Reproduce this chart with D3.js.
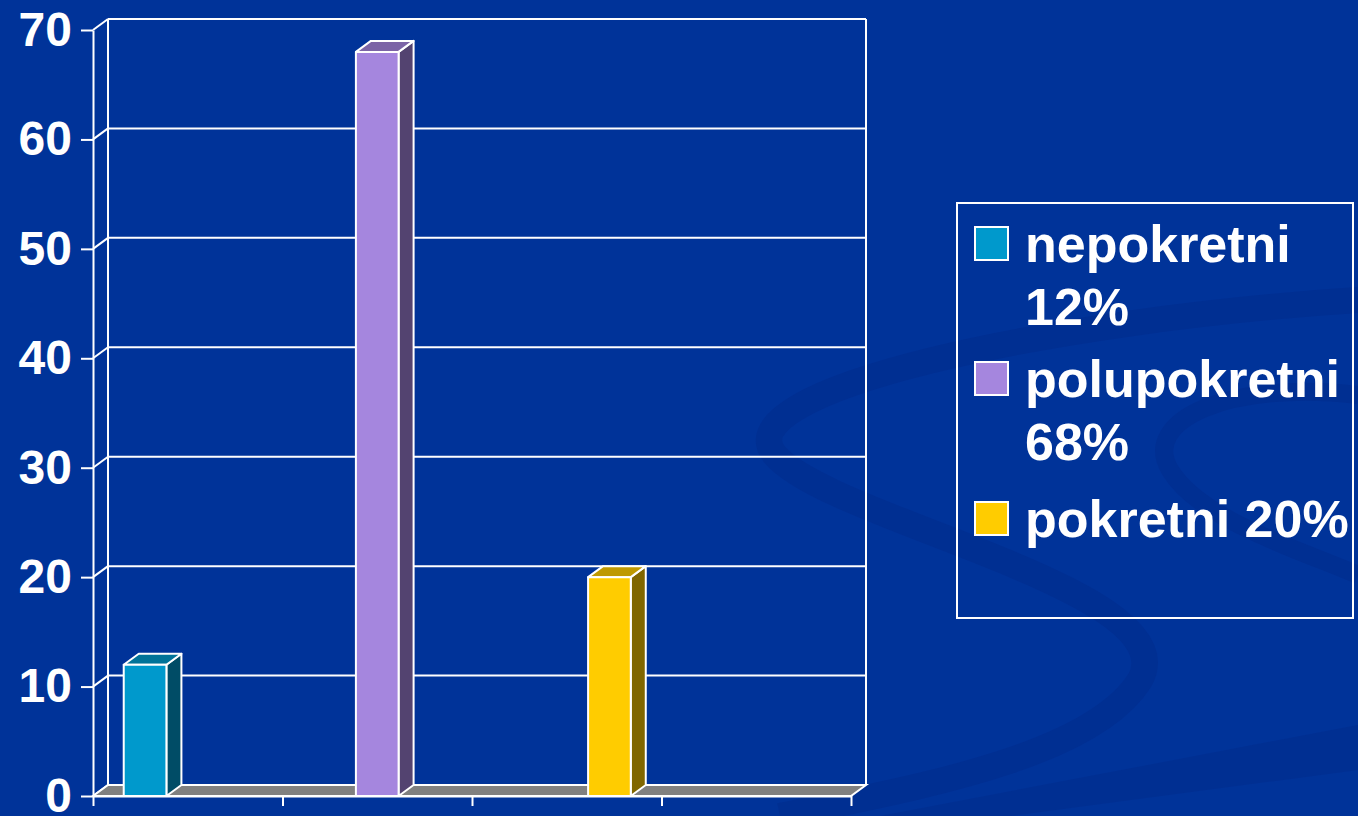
<!DOCTYPE html>
<html lang="hr">
<head>
  <meta charset="utf-8">
  <title>Pokretnost</title>
  <script src="https://cdn.jsdelivr.net/npm/d3@7"></script>
  <style>
    html, body { margin: 0; padding: 0; background: #003399; overflow: hidden; }
    svg { display: block; font-family: "Liberation Sans", Arial, sans-serif; font-weight: bold; }
  </style>
</head>
<body>
<script>
  // Data
  const slots = ["1", "2", "3", "4"];           // category slots along the x axis (no labels shown)
  const seriesNames = ["nepokretni 12%", "polupokretni 68%", "pokretni 20%"];
  const seriesValues = [12, 68, 20];
  const seriesSlot = ["1", "2", "3"];            // slot each series bar sits in
  const yTicks = [0, 10, 20, 30, 40, 50, 60, 70];

  // Colours: front, top, side
  const frontCol = ["#0099cc", "#a586de", "#ffcc00"];
  const topCol = ["#007399", "#7c64a6", "#bf9900"];
  const sideCol = ["#004c66", "#534370", "#806600"];

  const W = 1358, H = 816;
  const dx = 15, dy = 11; // 3d depth offset

  const svg = d3.select("body").append("svg")
    .attr("width", W)
    .attr("height", H);

  // background + swoosh decoration
  svg.append("rect").attr("width", W).attr("height", H).attr("fill", "#003399");
  const deco = svg.append("g").attr("fill", "none").attr("stroke", "#002b8c").attr("stroke-opacity", 0.55);
  deco.append("path")
    .attr("stroke-width", 26)
    .attr("d", "M1358,300 C1050,320 720,390 775,455 C830,520 1190,590 1140,680 C1090,760 900,790 780,816");
  deco.append("path")
    .attr("stroke-width", 18)
    .attr("d", "M1358,395 C1230,380 1140,420 1170,470 C1200,520 1300,550 1358,575");
  svg.append("path")
    .attr("fill", "#002b8c").attr("fill-opacity", 0.5)
    .attr("d", "M880,816 L1358,725 L1358,770 L1010,816 Z");

  // Scales
  const x = d3.scaleBand().domain(slots).range([93, 851]).paddingInner(0).paddingOuter(0);
  const xInner = d3.scaleBand().domain(seriesNames).range([0, x.bandwidth()]).paddingInner(0).paddingOuter(0.72);
  const xEdge = d3.scaleLinear().domain([0, slots.length]).range([93, 851]);
  const y = d3.scaleLinear().domain([0, 70]).range([796, 30]);

  const line = "#ffffff";

  // back wall gridlines
  const grid = svg.append("g").attr("stroke", line).attr("stroke-width", 2);
  grid.selectAll("line.h")
    .data(yTicks.slice(1))
    .join("line")
    .attr("class", "h")
    .attr("x1", 93 + dx).attr("x2", 851 + dx)
    .attr("y1", d => y(d) - dy).attr("y2", d => y(d) - dy);
  // left wall diagonals
  grid.selectAll("line.d")
    .data(yTicks)
    .join("line")
    .attr("class", "d")
    .attr("x1", 93).attr("x2", 93 + dx)
    .attr("y1", d => y(d)).attr("y2", d => y(d) - dy);
  // wall edges
  grid.append("line").attr("x1", 93 + dx).attr("x2", 93 + dx).attr("y1", y(70) - dy).attr("y2", y(0) - dy);
  grid.append("line").attr("x1", 851 + dx).attr("x2", 851 + dx).attr("y1", y(70) - dy).attr("y2", y(0) - dy);

  // floor
  svg.append("path")
    .attr("fill", "#808080")
    .attr("stroke", line).attr("stroke-width", 2)
    .attr("d", `M93,${y(0)} L851,${y(0)} L${851 + dx},${y(0) - dy} L${93 + dx},${y(0) - dy} Z`);

  // bars
  const bars = svg.append("g").attr("stroke", line).attr("stroke-width", 2).attr("stroke-linejoin", "round");
  seriesNames.forEach((name, i) => {
    const x0 = x(seriesSlot[i]) + xInner(name);
    const w = xInner.bandwidth();
    const yt = y(seriesValues[i]);
    const yb = y(0);
    const g = bars.append("g");
    g.append("path").attr("fill", sideCol[i])
      .attr("d", `M${x0 + w},${yt} L${x0 + w + dx},${yt - dy} L${x0 + w + dx},${yb - dy} L${x0 + w},${yb} Z`);
    g.append("path").attr("fill", topCol[i])
      .attr("d", `M${x0},${yt} L${x0 + dx},${yt - dy} L${x0 + w + dx},${yt - dy} L${x0 + w},${yt} Z`);
    g.append("rect").attr("fill", frontCol[i])
      .attr("x", x0).attr("y", yt).attr("width", w).attr("height", yb - yt);
  });

  // y axis
  const yAxis = svg.append("g")
    .attr("transform", "translate(93,0)")
    .call(d3.axisLeft(y).tickValues(yTicks).tickSize(12).tickSizeOuter(0).tickPadding(9));
  yAxis.selectAll("path, line").attr("stroke", line).attr("stroke-width", 2);
  yAxis.selectAll("text")
    .attr("fill", "#ffffff")
    .attr("font-size", 48)
    .attr("font-weight", "bold")
    .attr("font-family", "'Liberation Sans', Arial, sans-serif");

  // x axis (slot boundaries, no labels)
  const xAxis = svg.append("g")
    .attr("transform", `translate(0,${y(0)})`)
    .call(d3.axisBottom(xEdge).ticks(slots.length).tickSize(10).tickSizeOuter(0).tickFormat(""));
  xAxis.selectAll("path, line").attr("stroke", line).attr("stroke-width", 2);

  // legend
  const legend = svg.append("g");
  legend.append("rect")
    .attr("x", 957).attr("y", 203).attr("width", 396).attr("height", 415)
    .attr("fill", "none").attr("stroke", line).attr("stroke-width", 2);

  const legendTop = [227, 362, 502];
  const lineH = 63;
  const maxW = 330;
  seriesNames.forEach((name, i) => {
    const item = legend.append("g");
    item.append("rect")
      .attr("x", 975).attr("y", legendTop[i]).attr("width", 33).attr("height", 33)
      .attr("fill", frontCol[i]).attr("stroke", line).attr("stroke-width", 2);
    const text = item.append("text")
      .attr("x", 1025).attr("y", legendTop[i] + 35)
      .attr("fill", "#ffffff")
      .attr("font-size", 52);
    // simple word wrap
    const words = name.split(" ");
    let cur = [];
    let tspan = text.append("tspan").attr("x", 1025).attr("dy", 0);
    words.forEach(wd => {
      cur.push(wd);
      tspan.text(cur.join(" "));
      if (tspan.node().getComputedTextLength() > maxW && cur.length > 1) {
        cur.pop();
        tspan.text(cur.join(" "));
        cur = [wd];
        tspan = text.append("tspan").attr("x", 1025).attr("dy", lineH).text(wd);
      }
    });
  });
</script>
</body>
</html>
